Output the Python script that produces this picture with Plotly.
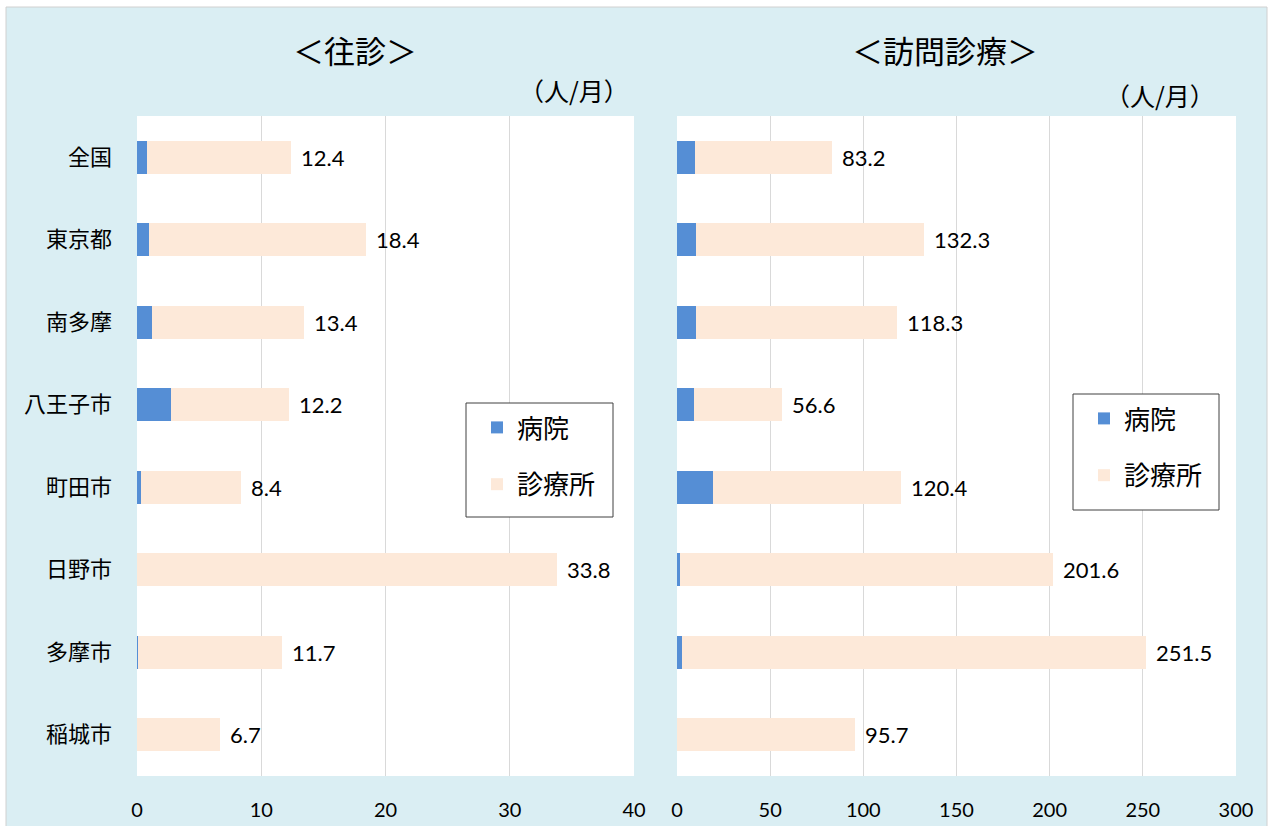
import plotly.graph_objects as go
from plotly.subplots import make_subplots

# Areas (top to bottom)
areas = ["全国", "東京都", "南多摩", "八王子市", "町田市", "日野市", "多摩市", "稲城市"]

# 往診 (patients per month, per facility)
oushin_hospital = [0.8, 1.0, 1.2, 2.7, 0.3, 0.0, 0.1, 0.0]
oushin_clinic = [11.6, 17.4, 12.2, 9.5, 8.1, 33.8, 11.6, 6.7]

# 訪問診療 (patients per month, per facility)
houmon_hospital = [9.8, 10.2, 10.2, 8.9, 19.5, 1.4, 2.7, 0.0]
houmon_clinic = [73.4, 122.1, 108.1, 47.7, 100.9, 200.2, 248.8, 95.7]

oushin_ticks = [0, 10, 20, 30, 40]
houmon_ticks = [0, 50, 100, 150, 200, 250, 300]

BLUE = "#558ED5"
PEACH = "#FDE9D9"
BG = "#DAEEF3"
GRID = "#D9D9D9"
FONT = "Lato, 'Noto Sans CJK JP', sans-serif"
JFONT = "'Noto Sans CJK JP', sans-serif"

fig = make_subplots(rows=1, cols=2, horizontal_spacing=0.0)

panels = [
    (1, oushin_hospital, oushin_clinic, "legend", "x", "y"),
    (2, houmon_hospital, houmon_clinic, "legend2", "x2", "y2"),
]
for col, hosp, clin, leg, xr, yr in panels:
    fig.add_trace(go.Bar(y=areas, x=hosp, orientation="h", name="病院",
                         marker=dict(color=BLUE, line=dict(width=0)),
                         width=0.4, legend=leg, legendgroup=leg + "a"),
                  row=1, col=col)
    fig.add_trace(go.Bar(y=areas, x=clin, orientation="h", name="診療所",
                         marker=dict(color=PEACH, line=dict(width=0)),
                         width=0.4, legend=leg, legendgroup=leg + "b"),
                  row=1, col=col)
    # total value labels at the end of each stacked bar
    for a, h, c in zip(areas, hosp, clin):
        total = round(h + c, 1)
        fig.add_annotation(x=total, y=a, xref=xr, yref=yr, text=f"{total:.1f}",
                           showarrow=False, xanchor="left", yanchor="middle",
                           xshift=8, font=dict(family=FONT, size=22, color="#000000"))

# plot area geometry in pixels
L, R, T, B = 137, 1236, 116, 776
W, H = R - L, B - T

def px(p):
    return (p - L) / W

def py(q):
    return (B - q) / H

legend_style = dict(xanchor="left", yanchor="top",
                    bgcolor="rgba(0,0,0,0)", borderwidth=0,
                    font=dict(size=26, family=JFONT), tracegroupgap=20,
                    itemwidth=30)

axis_common = dict(showgrid=True, gridcolor=GRID, gridwidth=1, zeroline=False,
                   showline=False, ticks="", ticklabelstandoff=20,
                   automargin=False, tickfont=dict(size=20, family=FONT))

fig.update_layout(
    width=1270, height=826,
    margin=dict(l=L, r=1270 - R, t=T, b=826 - B, autoexpand=False),
    barmode="stack",
    paper_bgcolor="#FFFFFF",
    plot_bgcolor="#FFFFFF",
    font=dict(family=FONT, color="#000000"),
    xaxis=dict(domain=[0, px(634)], range=[0, 40], tickvals=oushin_ticks, **axis_common),
    xaxis2=dict(domain=[px(677), 1], range=[0, 300], tickvals=houmon_ticks, **axis_common),
    yaxis=dict(autorange="reversed", showgrid=False, showline=False, ticks="",
               automargin=False, ticklabelstandoff=24,
               tickfont=dict(size=22, family=JFONT)),
    yaxis2=dict(autorange="reversed", showgrid=False, showline=False, ticks="",
                automargin=False, showticklabels=False),
    legend=dict(x=px(477), y=py(404), **legend_style),
    legend2=dict(x=px(1084), y=py(395), **legend_style),
    showlegend=True,
)

# light-blue chart area with a thin frame
fig.add_shape(type="rect", xref="paper", yref="paper",
              x0=px(6), x1=px(1267), y0=py(830), y1=py(7),
              fillcolor=BG, line=dict(color="#D0D0D0", width=1), layer="below")
# white plot areas on top of it
for xd, yd in (("x domain", "y domain"), ("x2 domain", "y2 domain")):
    fig.add_shape(type="rect", xref=xd, yref=yd, x0=0, x1=1, y0=0, y1=1,
                  fillcolor="#FFFFFF", line=dict(width=0), layer="below")

# framed white boxes behind the legends
for x0, x1, y0, y1 in ((466, 613, 403, 517), (1073, 1219, 394, 510)):
    fig.add_shape(type="rect", xref="paper", yref="paper",
                  x0=px(x0), x1=px(x1), y0=py(y1), y1=py(y0),
                  fillcolor="#FFFFFF", line=dict(color="#404040", width=1),
                  layer="above")

# panel titles and units
fig.add_annotation(x=px(355), y=py(50), xref="paper", yref="paper", text="＜往診＞",
                   showarrow=False, xanchor="center", yanchor="middle",
                   font=dict(size=31, family=JFONT))
fig.add_annotation(x=px(945), y=py(50), xref="paper", yref="paper", text="＜訪問診療＞",
                   showarrow=False, xanchor="center", yanchor="middle",
                   font=dict(size=31, family=JFONT))
fig.add_annotation(x=px(631), y=py(90), xref="paper", yref="paper", text="（人/月）",
                   showarrow=False, xanchor="right", yanchor="middle",
                   font=dict(size=25, family=JFONT))
fig.add_annotation(x=px(1217), y=py(95), xref="paper", yref="paper", text="（人/月）",
                   showarrow=False, xanchor="right", yanchor="middle",
                   font=dict(size=25, family=JFONT))

fig.write_html("out.html")
